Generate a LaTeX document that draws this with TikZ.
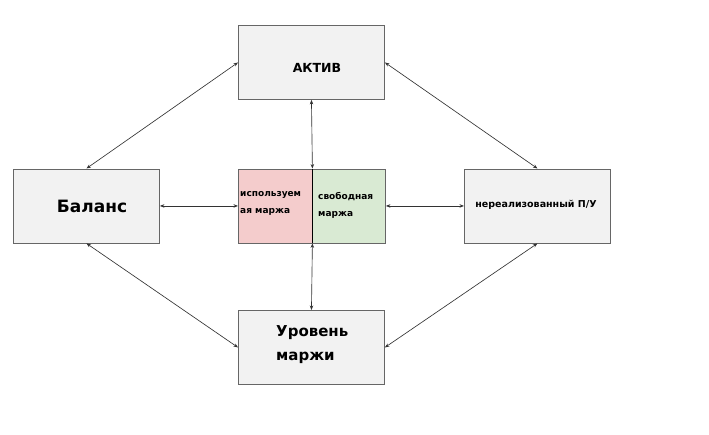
\documentclass[tikz,border=0pt]{standalone}
\usepackage{fontspec}
\setmainfont{DejaVu Sans}
\usetikzlibrary{arrows.meta}
\definecolor{boxfill}{HTML}{F2F2F2}
\definecolor{boxline}{HTML}{666666}
\definecolor{pinkfill}{HTML}{F4CCCC}
\definecolor{greenfill}{HTML}{D9EAD3}
\definecolor{arrowcol}{HTML}{333333}
\begin{document}
\begin{tikzpicture}[x=1pt,y=-1pt,
  box/.style={draw=boxline,line width=0.9pt,fill=boxfill,minimum width=146pt,minimum height=74pt,inner sep=0pt,anchor=north west},
  half/.style={draw=boxline,line width=0.9pt,minimum width=73.5pt,minimum height=74pt,inner sep=0pt,anchor=north west},
  link/.style={draw=arrowcol,line width=0.65pt,{Stealth[length=4.5pt,width=3.5pt]}-{Stealth[length=4.5pt,width=3.5pt]}},
  lbl/.style={font=\bfseries,inner sep=0pt,align=left}]
\useasboundingbox (0,0) rectangle (709,434);
\node[box] (aktiv) at (238,25) {};
\node[box] (balans) at (13,168.5) {};
\node[box] (pu) at (464,168.5) {};
\node[box] (uroven) at (238,310) {};
\node[half,fill=pinkfill] (pink) at (238,168.5) {};
\node[half,fill=greenfill] (green) at (311.5,168.5) {};
\draw[black,line width=1.1pt] (pink.north east) -- (pink.south east);
\node[lbl,font=\bfseries\fontsize{12.5}{14}\selectfont] (taktiv) at (317,68) {АКТИВ};
\node[lbl,font=\bfseries\fontsize{17}{18}\selectfont] (tbalans) at (92,206) {Баланс};
\node[lbl,font=\bfseries\fontsize{9.5}{11}\selectfont] (tpu) at (536,205) {нереализованный П/У};
\node[lbl,font=\bfseries\fontsize{15}{24}\selectfont,anchor=west] (turoven) at (276,345) {Уровень\\маржи};
\node[lbl,font=\bfseries\fontsize{9}{17}\selectfont,anchor=west] (tpink) at (240,203) {используем\\ая маржа};
\node[lbl,font=\bfseries\fontsize{9}{17}\selectfont,anchor=west] (tgreen) at (318,205) {свободная\\маржа};
\draw[link] (balans.north) -- (aktiv.west);
\draw[link] (balans.south) -- (uroven.west);
\draw[link] (aktiv.east) -- (pu.north);
\draw[link] (pu.south) -- (uroven.east);
\draw[link] (balans.east) -- (pink.west);
\draw[link] (green.east) -- (pu.west);
\draw[link] (aktiv.south) -- (pink.north east);
\draw[link] (pink.south east) -- (uroven.north);
\end{tikzpicture}
\end{document}
